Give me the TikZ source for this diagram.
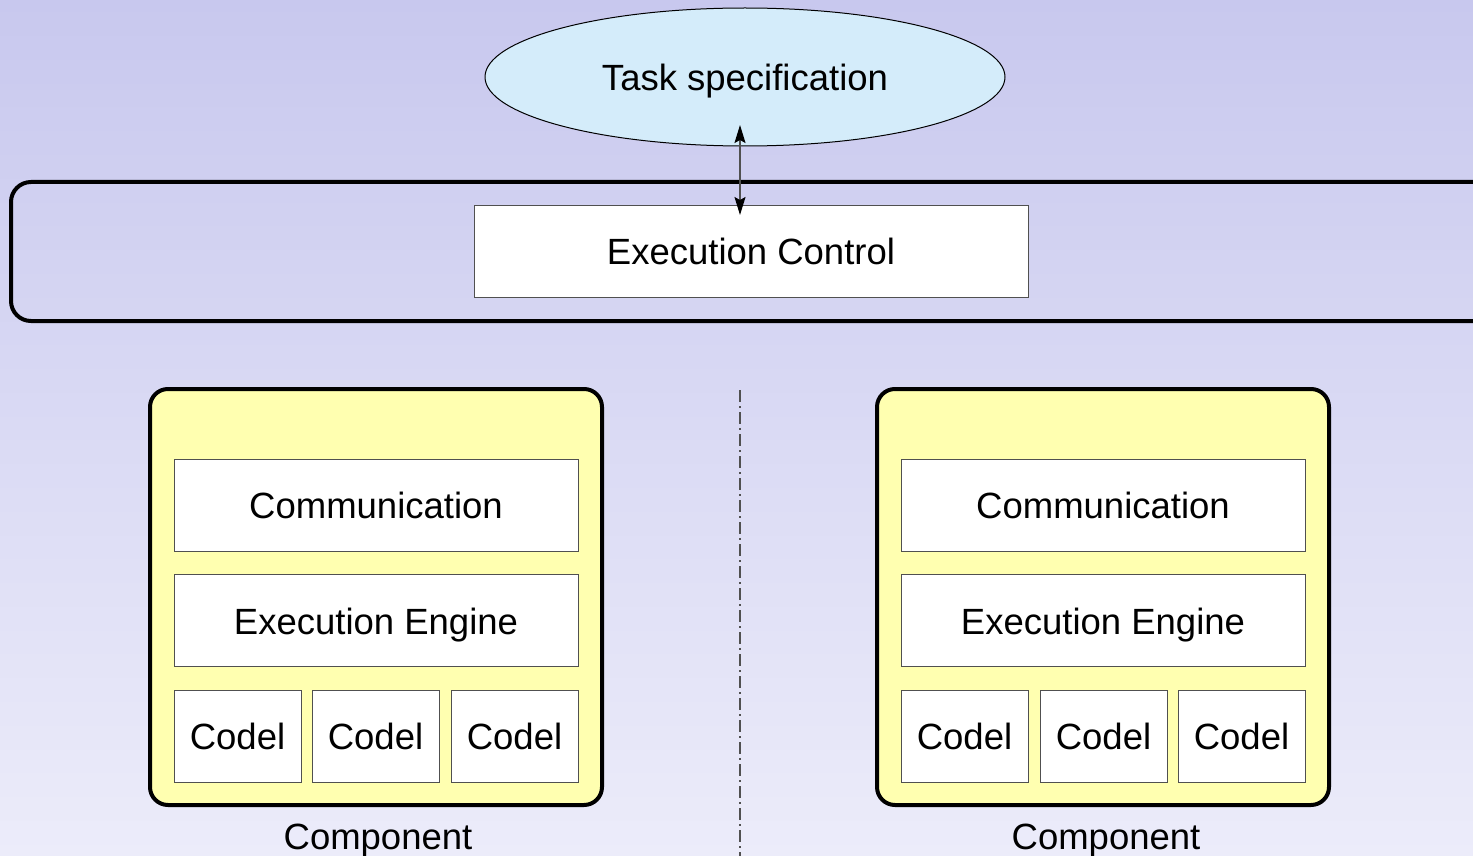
\documentclass[tikz,border=0pt]{standalone}
\usepackage{fontspec}
\setmainfont{Liberation Sans}
\usetikzlibrary{shapes.geometric,arrows.meta}
\definecolor{bgtop}{RGB}{200,200,238}
\definecolor{bgbot}{RGB}{236,236,250}
\definecolor{taskfill}{RGB}{212,236,250}
\definecolor{compfill}{RGB}{255,255,176}
\definecolor{thinline}{RGB}{80,80,80}
\tikzset{
  lbl/.style={font=\fontsize{36.5}{40}\selectfont, text=black, text height=27pt, text depth=0pt},
  layer/.style={draw=thinline, line width=1pt, fill=white, inner sep=0pt, lbl},
  wide/.style={layer, minimum width=404pt, minimum height=92pt},
  codel/.style={layer, minimum width=127pt, minimum height=92pt},
  compbox/.style={draw=black, line width=4pt, fill=compfill, rounded corners=18pt},
  groupbox/.style={draw=black, line width=4pt, rounded corners=20pt},
  >={Stealth[length=18pt,width=11pt,inset=3pt,fill=black,color=black]},
}
\begin{document}
\begin{tikzpicture}[x=1pt,y=-1pt]
  \useasboundingbox (0,0) rectangle (1473,856);
  \begin{scope}
    \clip (0,0) rectangle (1473,856);
    \shade[top color=bgtop, bottom color=bgbot] (0,0) rectangle (1473,856);

    % task level
    \node[ellipse, draw=black, line width=1pt, fill=taskfill, minimum width=520pt,
          minimum height=138pt, inner sep=0pt, lbl] (task) at (745,77) {Task specification};

    % execution control layer
    \draw[groupbox] (11,182) rectangle (1530,321);
    \node[layer, minimum width=554pt, minimum height=92pt] (ctrl) at (751,251) {Execution Control};

    \coordinate (arrtop) at (740,125);
    \coordinate (arrbot) at (740,215);
    \draw[draw=thinline, line width=1.5pt, <->] (arrtop) -- (arrbot);

    % separator between components
    \coordinate (septop) at (740,390);
    \coordinate (sepbot) at (740,860);
    \draw[draw=thinline, line width=1.2pt, dash pattern=on 12pt off 4pt on 2pt off 4pt] (septop) -- (sepbot);

    % left component
    \draw[compbox] (150,389) rectangle (602,805);
    \node[wide] (commL) at (376,505) {Communication};
    \node[wide] (engL) at (376,620.5) {Execution Engine};
    \node[codel] (codL1) at (237.5,736) {Codel};
    \node[codel] (codL2) at (375.5,736) {Codel};
    \node[codel] (codL3) at (514.5,736) {Codel};
    \node[lbl, inner sep=0pt] (compL) at (378,836) {Component};

    % right component
    \draw[compbox] (877,389) rectangle (1329,805);
    \node[wide] (commR) at (1103,505) {Communication};
    \node[wide] (engR) at (1103,620.5) {Execution Engine};
    \node[codel] (codR1) at (964.5,736) {Codel};
    \node[codel] (codR2) at (1103.5,736) {Codel};
    \node[codel] (codR3) at (1241.5,736) {Codel};
    \node[lbl, inner sep=0pt] (compR) at (1106,836) {Component};
  \end{scope}
\end{tikzpicture}
\end{document}
